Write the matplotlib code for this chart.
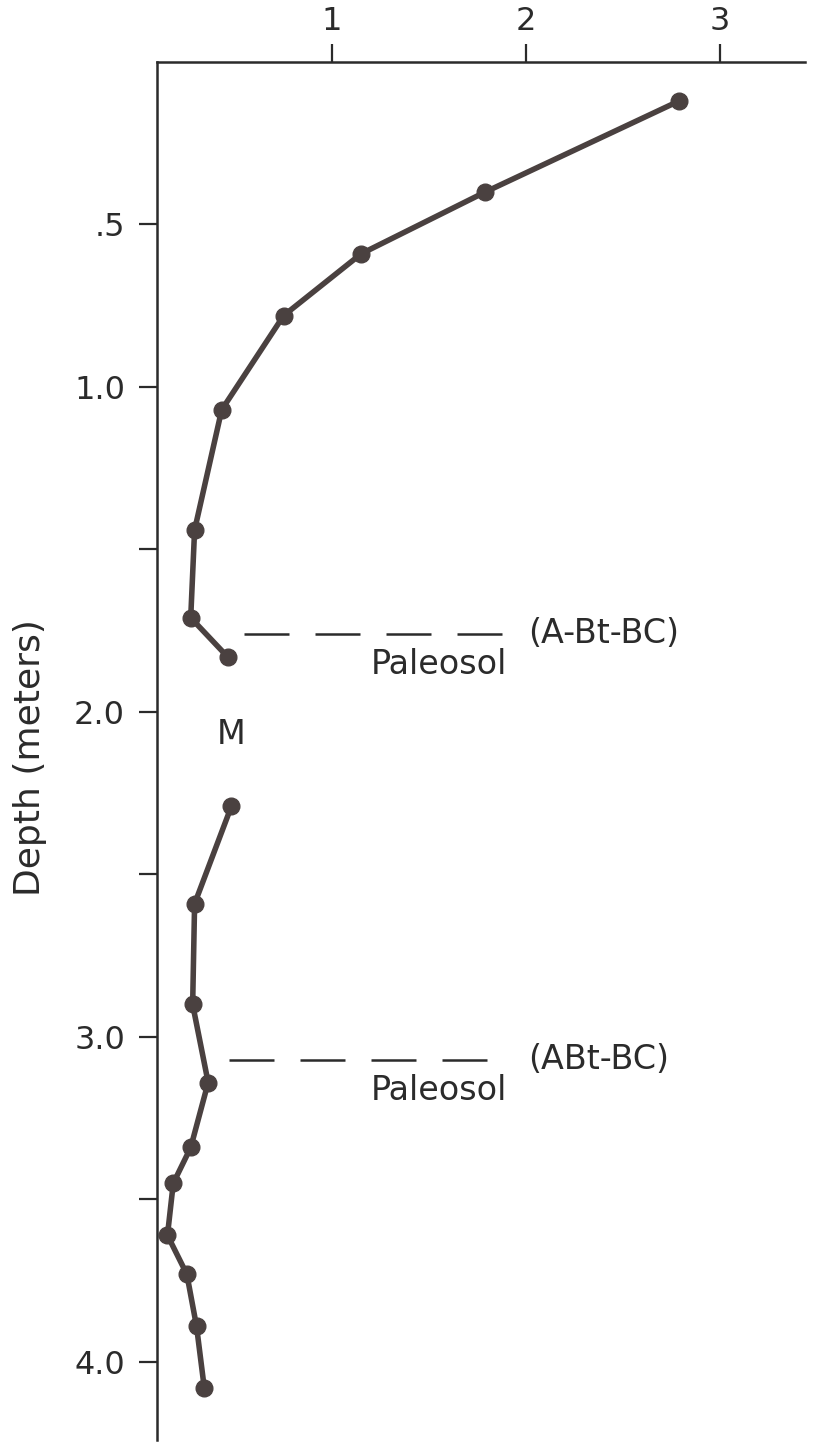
import numpy as np
import matplotlib
matplotlib.use("Agg")
import matplotlib.pyplot as plt

# upper profile (above M)
upper_x = [2.79, 1.79, 1.15, 0.75, 0.43, 0.29, 0.27, 0.46]
upper_depth = [0.12, 0.40, 0.59, 0.78, 1.07, 1.44, 1.71, 1.83]

# lower profile (below M)
lower_x = [0.48, 0.29, 0.28, 0.36, 0.27, 0.18, 0.15, 0.25, 0.30, 0.34]
lower_depth = [2.29, 2.59, 2.90, 3.14, 3.34, 3.45, 3.61, 3.73, 3.89, 4.08]

# paleosol boundaries
paleo_depth = [1.76, 3.07]
paleo_start = [0.545, 0.465]
paleo_end = [1.92, 1.92]
paleo_labels = ["(A-Bt-BC)", "(ABt-BC)"]

x_ticks = [1, 2, 3]
y_ticks = [0.5, 1.0, 1.5, 2.0, 2.5, 3.0, 3.5, 4.0]
y_ticklabels = [".5", "1.0", "", "2.0", "", "3.0", "", "4.0"]

col = "#4a4140"
ink = "#2b2b2b"
fs = 24

fig = plt.figure(figsize=(8.29, 14.5), dpi=100)
ax = fig.add_axes([157/829, 1 - 1440/1450, (805-157)/829, (1440-62)/1450])

ax.plot(upper_x, upper_depth, color=col, lw=4, marker="o", ms=12, mfc=col, mec=col)
ax.plot(lower_x, lower_depth, color=col, lw=4, marker="o", ms=12, mfc=col, mec=col)

for d, x0, x1, lab in zip(paleo_depth, paleo_start, paleo_end, paleo_labels):
    ax.plot([x0, x1], [d, d], color=ink, lw=1.8, dashes=(18, 10.4))
    ax.text(2.01, d, lab, fontsize=fs, va="center", ha="left", color=ink)
    ax.text(1.55, d + 0.095, "Paleosol", fontsize=fs, va="center", ha="center", color=ink)

ax.text(0.48, 2.07, "M", fontsize=fs, va="center", ha="center", color=ink)

ax.set_xlim(0.096, 3.44)
ax.set_ylim(4.24, 0.0)

ax.xaxis.tick_top()
ax.set_xticks(x_ticks)
ax.set_xticklabels([str(t) for t in x_ticks])
ax.set_yticks(y_ticks)
ax.set_yticklabels(y_ticklabels)
ax.tick_params(axis="x", direction="out", length=13, width=1.6, pad=5, labelsize=23, colors=ink)
ax.tick_params(axis="y", direction="out", length=13, width=1.6, pad=10, labelsize=23, colors=ink)

for s in ["right", "bottom"]:
    ax.spines[s].set_visible(False)
for s in ["left", "top"]:
    ax.spines[s].set_linewidth(1.8)
    ax.spines[s].set_color(ink)

fig.text(30/829, 1 - 758/1450, "Depth (meters)", rotation=90, fontsize=26,
         ha="center", va="center", color=ink)

fig.savefig("out.png", dpi=100)
